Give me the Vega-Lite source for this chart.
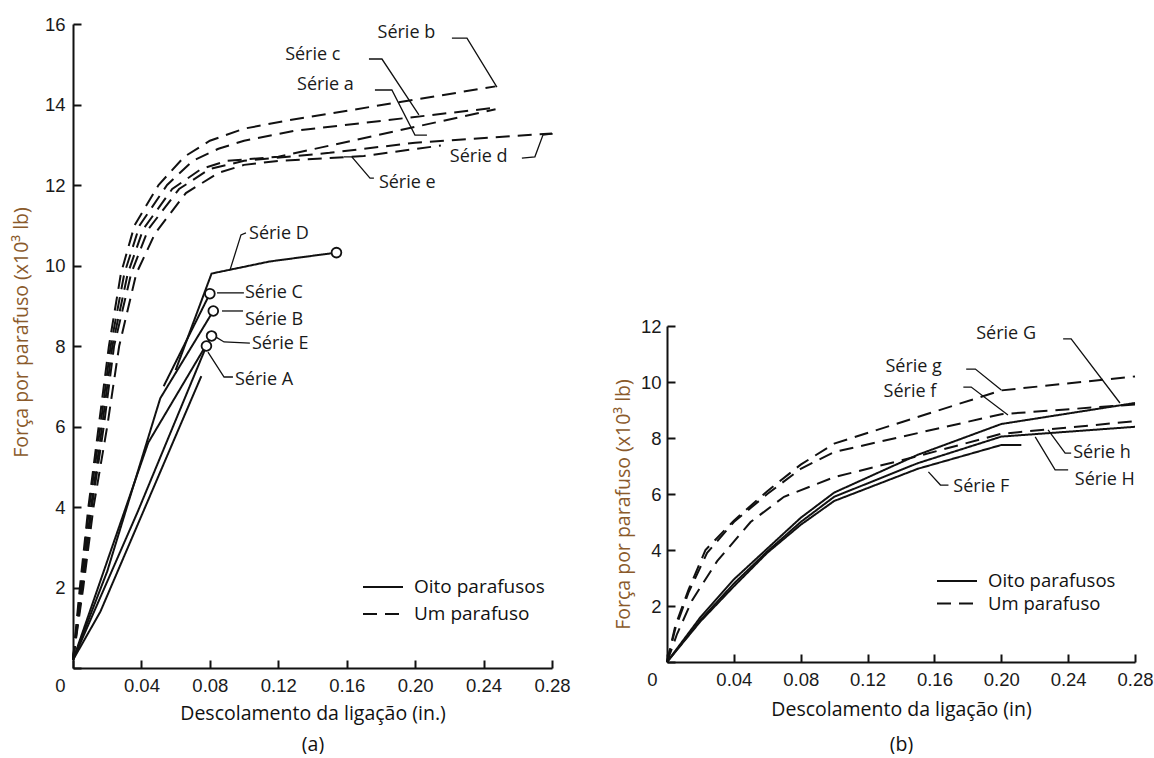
{
  "$schema": "https://vega.github.io/schema/vega-lite/v6.json",
  "background": "white",
  "padding": {"left": 11, "top": 15, "right": 0, "bottom": 0},
  "spacing": 42,
  "config": {
    "view": {"stroke": null},
    "font": "Open Sans",
    "axis": {
      "grid": false,
      "domainColor": "#111111",
      "domainWidth": 2,
      "tickColor": "#111111",
      "tickWidth": 2,
      "tickSize": -8,
      "labelFont": "Liberation Sans",
      "labelFontSize": 18.5,
      "labelColor": "#1a1a1a",
      "labelPadding": 16,
      "labelOverlap": false,
      "labelFlush": false,
      "titleFont": "Open Sans",
      "titleFontWeight": "normal",
      "titleFontSize": 19.5,
      "titleColor": "#111111"
    }
  },
  "resolve": {"scale": {"strokeDash": "independent"}, "legend": {"strokeDash": "independent"}},
  "datasets": {
    "curvas_a": [
      {"serie": "b", "tipo": "Um parafuso", "x": 0, "y": 0.2},
      {"serie": "b", "tipo": "Um parafuso", "x": 0.004, "y": 2},
      {"serie": "b", "tipo": "Um parafuso", "x": 0.009, "y": 4},
      {"serie": "b", "tipo": "Um parafuso", "x": 0.015, "y": 6},
      {"serie": "b", "tipo": "Um parafuso", "x": 0.021, "y": 8},
      {"serie": "b", "tipo": "Um parafuso", "x": 0.028, "y": 9.8},
      {"serie": "b", "tipo": "Um parafuso", "x": 0.036, "y": 11},
      {"serie": "b", "tipo": "Um parafuso", "x": 0.05, "y": 12},
      {"serie": "b", "tipo": "Um parafuso", "x": 0.065, "y": 12.7},
      {"serie": "b", "tipo": "Um parafuso", "x": 0.08, "y": 13.1},
      {"serie": "b", "tipo": "Um parafuso", "x": 0.1, "y": 13.4},
      {"serie": "b", "tipo": "Um parafuso", "x": 0.125, "y": 13.6},
      {"serie": "b", "tipo": "Um parafuso", "x": 0.247, "y": 14.45},
      {"serie": "c", "tipo": "Um parafuso", "x": 0, "y": 0.2},
      {"serie": "c", "tipo": "Um parafuso", "x": 0.0045, "y": 2},
      {"serie": "c", "tipo": "Um parafuso", "x": 0.0095, "y": 4},
      {"serie": "c", "tipo": "Um parafuso", "x": 0.016, "y": 6},
      {"serie": "c", "tipo": "Um parafuso", "x": 0.022, "y": 8},
      {"serie": "c", "tipo": "Um parafuso", "x": 0.03, "y": 9.8},
      {"serie": "c", "tipo": "Um parafuso", "x": 0.039, "y": 11},
      {"serie": "c", "tipo": "Um parafuso", "x": 0.055, "y": 12},
      {"serie": "c", "tipo": "Um parafuso", "x": 0.07, "y": 12.6},
      {"serie": "c", "tipo": "Um parafuso", "x": 0.085, "y": 12.9},
      {"serie": "c", "tipo": "Um parafuso", "x": 0.1, "y": 13.1},
      {"serie": "c", "tipo": "Um parafuso", "x": 0.13, "y": 13.35},
      {"serie": "c", "tipo": "Um parafuso", "x": 0.247, "y": 13.92},
      {"serie": "a", "tipo": "Um parafuso", "x": 0, "y": 0.2},
      {"serie": "a", "tipo": "Um parafuso", "x": 0.005, "y": 2},
      {"serie": "a", "tipo": "Um parafuso", "x": 0.0105, "y": 4},
      {"serie": "a", "tipo": "Um parafuso", "x": 0.017, "y": 6},
      {"serie": "a", "tipo": "Um parafuso", "x": 0.023, "y": 8},
      {"serie": "a", "tipo": "Um parafuso", "x": 0.032, "y": 9.8},
      {"serie": "a", "tipo": "Um parafuso", "x": 0.041, "y": 10.9},
      {"serie": "a", "tipo": "Um parafuso", "x": 0.058, "y": 11.9},
      {"serie": "a", "tipo": "Um parafuso", "x": 0.075, "y": 12.4},
      {"serie": "a", "tipo": "Um parafuso", "x": 0.09, "y": 12.6},
      {"serie": "a", "tipo": "Um parafuso", "x": 0.12, "y": 12.7},
      {"serie": "a", "tipo": "Um parafuso", "x": 0.247, "y": 13.88},
      {"serie": "d", "tipo": "Um parafuso", "x": 0, "y": 0.2},
      {"serie": "d", "tipo": "Um parafuso", "x": 0.0055, "y": 2},
      {"serie": "d", "tipo": "Um parafuso", "x": 0.011, "y": 4},
      {"serie": "d", "tipo": "Um parafuso", "x": 0.018, "y": 6},
      {"serie": "d", "tipo": "Um parafuso", "x": 0.024, "y": 8},
      {"serie": "d", "tipo": "Um parafuso", "x": 0.034, "y": 9.8},
      {"serie": "d", "tipo": "Um parafuso", "x": 0.044, "y": 10.9},
      {"serie": "d", "tipo": "Um parafuso", "x": 0.062, "y": 11.9},
      {"serie": "d", "tipo": "Um parafuso", "x": 0.08, "y": 12.4},
      {"serie": "d", "tipo": "Um parafuso", "x": 0.1, "y": 12.6},
      {"serie": "d", "tipo": "Um parafuso", "x": 0.15, "y": 12.8},
      {"serie": "d", "tipo": "Um parafuso", "x": 0.2, "y": 13.05},
      {"serie": "d", "tipo": "Um parafuso", "x": 0.28, "y": 13.28},
      {"serie": "e", "tipo": "Um parafuso", "x": 0, "y": 0.2},
      {"serie": "e", "tipo": "Um parafuso", "x": 0.006, "y": 2},
      {"serie": "e", "tipo": "Um parafuso", "x": 0.012, "y": 4},
      {"serie": "e", "tipo": "Um parafuso", "x": 0.02, "y": 6},
      {"serie": "e", "tipo": "Um parafuso", "x": 0.027, "y": 8},
      {"serie": "e", "tipo": "Um parafuso", "x": 0.037, "y": 9.8},
      {"serie": "e", "tipo": "Um parafuso", "x": 0.048, "y": 10.8},
      {"serie": "e", "tipo": "Um parafuso", "x": 0.066, "y": 11.8},
      {"serie": "e", "tipo": "Um parafuso", "x": 0.085, "y": 12.3},
      {"serie": "e", "tipo": "Um parafuso", "x": 0.1, "y": 12.5},
      {"serie": "e", "tipo": "Um parafuso", "x": 0.12, "y": 12.6},
      {"serie": "e", "tipo": "Um parafuso", "x": 0.17, "y": 12.72},
      {"serie": "e", "tipo": "Um parafuso", "x": 0.215, "y": 12.98},
      {"serie": "A", "tipo": "Oito parafusos", "x": 0, "y": 0.2},
      {"serie": "A", "tipo": "Oito parafusos", "x": 0.038, "y": 3.9},
      {"serie": "A", "tipo": "Oito parafusos", "x": 0.078, "y": 8.0},
      {"serie": "E", "tipo": "Oito parafusos", "x": 0, "y": 0.2},
      {"serie": "E", "tipo": "Oito parafusos", "x": 0.044, "y": 5.6},
      {"serie": "E", "tipo": "Oito parafusos", "x": 0.081, "y": 8.25},
      {"serie": "B", "tipo": "Oito parafusos", "x": 0, "y": 0.2},
      {"serie": "B", "tipo": "Oito parafusos", "x": 0.02, "y": 2.4},
      {"serie": "B", "tipo": "Oito parafusos", "x": 0.051, "y": 6.7},
      {"serie": "B", "tipo": "Oito parafusos", "x": 0.082, "y": 8.87},
      {"serie": "C", "tipo": "Oito parafusos", "x": 0.053, "y": 7.0},
      {"serie": "C", "tipo": "Oito parafusos", "x": 0.08, "y": 9.3},
      {"serie": "D", "tipo": "Oito parafusos", "x": 0.06, "y": 7.4},
      {"serie": "D", "tipo": "Oito parafusos", "x": 0.081, "y": 9.8},
      {"serie": "D", "tipo": "Oito parafusos", "x": 0.115, "y": 10.1},
      {"serie": "D", "tipo": "Oito parafusos", "x": 0.154, "y": 10.32},
      {"serie": "A2", "tipo": "Oito parafusos", "x": 0, "y": 0.2},
      {"serie": "A2", "tipo": "Oito parafusos", "x": 0.016, "y": 1.4},
      {"serie": "A2", "tipo": "Oito parafusos", "x": 0.075, "y": 7.25}
    ],
    "circulos_a": [
      {"serie": "A", "x": 0.078, "y": 8.0},
      {"serie": "E", "x": 0.081, "y": 8.25},
      {"serie": "B", "x": 0.082, "y": 8.87},
      {"serie": "C", "x": 0.08, "y": 9.3},
      {"serie": "D", "x": 0.154, "y": 10.32}
    ],
    "rotulos_a": [
      {"rotulo": "Série b", "x": 0.178, "y": 15.78},
      {"rotulo": "Série c", "x": 0.124, "y": 15.23},
      {"rotulo": "Série a", "x": 0.131, "y": 14.48},
      {"rotulo": "Série d", "x": 0.2203, "y": 12.7},
      {"rotulo": "Série e", "x": 0.1788, "y": 12.05},
      {"rotulo": "Série D", "x": 0.1029, "y": 10.78},
      {"rotulo": "Série C", "x": 0.1005, "y": 9.32},
      {"rotulo": "Série B", "x": 0.1005, "y": 8.65},
      {"rotulo": "Série E", "x": 0.1046, "y": 8.05},
      {"rotulo": "Série A", "x": 0.0947, "y": 7.16}
    ],
    "lideres_a": [
      {"id": "b", "ord": 1, "x": 0.2215, "y": 15.65},
      {"id": "b", "ord": 2, "x": 0.2303, "y": 15.65},
      {"id": "b", "ord": 3, "x": 0.2478, "y": 14.43},
      {"id": "c", "ord": 1, "x": 0.173, "y": 15.13},
      {"id": "c", "ord": 2, "x": 0.1806, "y": 15.13},
      {"id": "c", "ord": 3, "x": 0.2022, "y": 13.74},
      {"id": "a", "ord": 1, "x": 0.1765, "y": 14.36},
      {"id": "a", "ord": 2, "x": 0.1864, "y": 14.36},
      {"id": "a", "ord": 3, "x": 0.1999, "y": 13.24},
      {"id": "a", "ord": 4, "x": 0.2069, "y": 13.24},
      {"id": "d", "ord": 1, "x": 0.2624, "y": 12.67},
      {"id": "d", "ord": 2, "x": 0.27, "y": 12.7},
      {"id": "d", "ord": 3, "x": 0.2747, "y": 13.24},
      {"id": "d", "ord": 4, "x": 0.2805, "y": 13.27},
      {"id": "e", "ord": 1, "x": 0.1759, "y": 12.17},
      {"id": "e", "ord": 2, "x": 0.1736, "y": 12.17},
      {"id": "e", "ord": 3, "x": 0.163, "y": 12.7},
      {"id": "e", "ord": 4, "x": 0.1584, "y": 12.7},
      {"id": "D", "ord": 1, "x": 0.1011, "y": 10.81},
      {"id": "D", "ord": 2, "x": 0.0982, "y": 10.76},
      {"id": "D", "ord": 3, "x": 0.0918, "y": 9.89},
      {"id": "C", "ord": 1, "x": 0.0842, "y": 9.32},
      {"id": "C", "ord": 2, "x": 0.0999, "y": 9.32},
      {"id": "B", "ord": 1, "x": 0.0871, "y": 8.87},
      {"id": "B", "ord": 2, "x": 0.0994, "y": 8.87},
      {"id": "E", "ord": 1, "x": 0.0836, "y": 8.22},
      {"id": "E", "ord": 2, "x": 0.0883, "y": 8.1},
      {"id": "E", "ord": 3, "x": 0.1034, "y": 8.07},
      {"id": "A", "ord": 1, "x": 0.0789, "y": 7.85},
      {"id": "A", "ord": 2, "x": 0.0883, "y": 7.23},
      {"id": "A", "ord": 3, "x": 0.0935, "y": 7.23}
    ],
    "curvas_b": [
      {"serie": "g", "tipo": "Um parafuso", "x": 0, "y": 0},
      {"serie": "g", "tipo": "Um parafuso", "x": 0.005, "y": 1.3},
      {"serie": "g", "tipo": "Um parafuso", "x": 0.013, "y": 2.6},
      {"serie": "g", "tipo": "Um parafuso", "x": 0.023, "y": 4.0},
      {"serie": "g", "tipo": "Um parafuso", "x": 0.04, "y": 5.05},
      {"serie": "g", "tipo": "Um parafuso", "x": 0.06, "y": 6.1},
      {"serie": "g", "tipo": "Um parafuso", "x": 0.08, "y": 7.05},
      {"serie": "g", "tipo": "Um parafuso", "x": 0.1, "y": 7.8},
      {"serie": "g", "tipo": "Um parafuso", "x": 0.2, "y": 9.7},
      {"serie": "g", "tipo": "Um parafuso", "x": 0.28, "y": 10.2},
      {"serie": "f", "tipo": "Um parafuso", "x": 0, "y": 0},
      {"serie": "f", "tipo": "Um parafuso", "x": 0.005, "y": 1.2},
      {"serie": "f", "tipo": "Um parafuso", "x": 0.013, "y": 2.5},
      {"serie": "f", "tipo": "Um parafuso", "x": 0.024, "y": 3.9},
      {"serie": "f", "tipo": "Um parafuso", "x": 0.04, "y": 5.0},
      {"serie": "f", "tipo": "Um parafuso", "x": 0.06, "y": 6.0},
      {"serie": "f", "tipo": "Um parafuso", "x": 0.08, "y": 6.9},
      {"serie": "f", "tipo": "Um parafuso", "x": 0.1, "y": 7.5},
      {"serie": "f", "tipo": "Um parafuso", "x": 0.2, "y": 8.85},
      {"serie": "f", "tipo": "Um parafuso", "x": 0.28, "y": 9.2},
      {"serie": "h", "tipo": "Um parafuso", "x": 0, "y": 0},
      {"serie": "h", "tipo": "Um parafuso", "x": 0.006, "y": 1.0},
      {"serie": "h", "tipo": "Um parafuso", "x": 0.015, "y": 2.2},
      {"serie": "h", "tipo": "Um parafuso", "x": 0.03, "y": 3.6},
      {"serie": "h", "tipo": "Um parafuso", "x": 0.05, "y": 5.0},
      {"serie": "h", "tipo": "Um parafuso", "x": 0.07, "y": 5.9},
      {"serie": "h", "tipo": "Um parafuso", "x": 0.1, "y": 6.6},
      {"serie": "h", "tipo": "Um parafuso", "x": 0.15, "y": 7.35},
      {"serie": "h", "tipo": "Um parafuso", "x": 0.2, "y": 8.15},
      {"serie": "h", "tipo": "Um parafuso", "x": 0.28, "y": 8.6},
      {"serie": "G", "tipo": "Oito parafusos", "x": 0, "y": 0},
      {"serie": "G", "tipo": "Oito parafusos", "x": 0.02, "y": 1.6},
      {"serie": "G", "tipo": "Oito parafusos", "x": 0.04, "y": 2.95},
      {"serie": "G", "tipo": "Oito parafusos", "x": 0.06, "y": 4.05},
      {"serie": "G", "tipo": "Oito parafusos", "x": 0.08, "y": 5.15},
      {"serie": "G", "tipo": "Oito parafusos", "x": 0.1, "y": 6.05},
      {"serie": "G", "tipo": "Oito parafusos", "x": 0.15, "y": 7.4},
      {"serie": "G", "tipo": "Oito parafusos", "x": 0.2, "y": 8.5},
      {"serie": "G", "tipo": "Oito parafusos", "x": 0.28, "y": 9.25},
      {"serie": "H", "tipo": "Oito parafusos", "x": 0, "y": 0},
      {"serie": "H", "tipo": "Oito parafusos", "x": 0.02, "y": 1.5},
      {"serie": "H", "tipo": "Oito parafusos", "x": 0.04, "y": 2.8},
      {"serie": "H", "tipo": "Oito parafusos", "x": 0.06, "y": 3.95},
      {"serie": "H", "tipo": "Oito parafusos", "x": 0.08, "y": 5.0},
      {"serie": "H", "tipo": "Oito parafusos", "x": 0.1, "y": 5.9},
      {"serie": "H", "tipo": "Oito parafusos", "x": 0.15, "y": 7.1},
      {"serie": "H", "tipo": "Oito parafusos", "x": 0.2, "y": 8.05},
      {"serie": "H", "tipo": "Oito parafusos", "x": 0.28, "y": 8.4},
      {"serie": "F", "tipo": "Oito parafusos", "x": 0, "y": 0},
      {"serie": "F", "tipo": "Oito parafusos", "x": 0.02, "y": 1.45},
      {"serie": "F", "tipo": "Oito parafusos", "x": 0.04, "y": 2.7},
      {"serie": "F", "tipo": "Oito parafusos", "x": 0.06, "y": 3.9},
      {"serie": "F", "tipo": "Oito parafusos", "x": 0.08, "y": 4.9},
      {"serie": "F", "tipo": "Oito parafusos", "x": 0.1, "y": 5.75},
      {"serie": "F", "tipo": "Oito parafusos", "x": 0.15, "y": 6.9},
      {"serie": "F", "tipo": "Oito parafusos", "x": 0.2, "y": 7.75},
      {"serie": "F", "tipo": "Oito parafusos", "x": 0.212, "y": 7.75}
    ],
    "rotulos_b": [
      {"rotulo": "Série G", "x": 0.185, "y": 11.71},
      {"rotulo": "Série g", "x": 0.1307, "y": 10.54},
      {"rotulo": "Série f", "x": 0.1296, "y": 9.64},
      {"rotulo": "Série h", "x": 0.243, "y": 7.46},
      {"rotulo": "Série H", "x": 0.244, "y": 6.5},
      {"rotulo": "Série F", "x": 0.1713, "y": 6.25}
    ],
    "lideres_b": [
      {"id": "G", "ord": 1, "x": 0.237, "y": 11.54},
      {"id": "G", "ord": 2, "x": 0.2418, "y": 11.54},
      {"id": "G", "ord": 3, "x": 0.271, "y": 9.25},
      {"id": "g", "ord": 1, "x": 0.179, "y": 10.46},
      {"id": "g", "ord": 2, "x": 0.1845, "y": 10.46},
      {"id": "g", "ord": 3, "x": 0.2, "y": 9.71},
      {"id": "f", "ord": 1, "x": 0.1773, "y": 9.82},
      {"id": "f", "ord": 2, "x": 0.182, "y": 9.82},
      {"id": "f", "ord": 3, "x": 0.204, "y": 8.82},
      {"id": "h", "ord": 1, "x": 0.228, "y": 8.29},
      {"id": "h", "ord": 2, "x": 0.2382, "y": 7.46},
      {"id": "h", "ord": 3, "x": 0.2418, "y": 7.46},
      {"id": "H", "ord": 1, "x": 0.2203, "y": 8.04},
      {"id": "H", "ord": 2, "x": 0.2322, "y": 6.86},
      {"id": "H", "ord": 3, "x": 0.24, "y": 6.86},
      {"id": "F", "ord": 1, "x": 0.1564, "y": 6.79},
      {"id": "F", "ord": 2, "x": 0.1636, "y": 6.32},
      {"id": "F", "ord": 3, "x": 0.1684, "y": 6.32}
    ]
  },
  "hconcat": [
    {
      "width": 479,
      "height": 644,
      "layer": [
        {
          "data": {"name": "curvas_a"},
          "mark": {"type": "line", "strokeWidth": 2, "color": "#111111", "clip": false},
          "encoding": {
            "x": {
              "field": "x", "type": "quantitative",
              "scale": {"domain": [0, 0.28], "nice": false, "zero": false},
              "axis": {
                "values": [0, 0.04, 0.08, 0.12, 0.16, 0.2, 0.24, 0.28],
                "labelExpr": "datum.value === 0 ? '0' : format(datum.value, '.2f')",
                "labelOffset": {"condition": {"test": "datum.value === 0", "value": -13}, "value": 0},
                "title": ["Descolamento da ligação (in.)", "(a)"],
                "titleLineHeight": 31,
                "titlePadding": 10
              }
            },
            "y": {
              "field": "y", "type": "quantitative",
              "scale": {"domain": [0, 16], "nice": false},
              "axis": {
                "values": [0, 2, 4, 6, 8, 10, 12, 14, 16],
                "labelExpr": "datum.value === 0 ? '' : datum.label",
                "title": "Força por parafuso (x10³ lb)",
                "titleColor": "#8a5a2b",
                "titlePadding": 13,
                "titleY": 308
              }
            },
            "detail": {"field": "serie"},
            "strokeDash": {
              "field": "tipo", "type": "nominal",
              "scale": {"domain": ["Oito parafusos", "Um parafuso"], "range": [[1, 0], [14, 8]]},
              "legend": {
                "orient": "none",
                "legendX": 299,
                "legendY": 552,
                "title": null,
                "symbolType": "M-2,0H2",
                "symbolSize": 400,
                "symbolStrokeWidth": 2,
                "symbolStrokeColor": "#111111",
                "labelFont": "Open Sans",
                "labelFontSize": 19,
                "labelColor": "#111111",
                "labelOffset": 20,
                "rowPadding": 6
              }
            }
          }
        },
        {
          "data": {"name": "lideres_a"},
          "mark": {"type": "line", "strokeWidth": 1.3, "color": "#111111", "clip": false},
          "encoding": {
            "x": {"field": "x", "type": "quantitative"},
            "y": {"field": "y", "type": "quantitative"},
            "detail": {"field": "id"},
            "order": {"field": "ord", "type": "quantitative"}
          }
        },
        {
          "data": {"name": "circulos_a"},
          "mark": {"type": "point", "shape": "circle", "filled": true, "fill": "white", "stroke": "#111111", "strokeWidth": 1.8, "size": 95, "opacity": 1},
          "encoding": {
            "x": {"field": "x", "type": "quantitative"},
            "y": {"field": "y", "type": "quantitative"}
          }
        },
        {
          "data": {"name": "rotulos_a"},
          "mark": {"type": "text", "align": "left", "baseline": "middle", "font": "Open Sans", "fontSize": 18, "color": "#1a1a1a"},
          "encoding": {
            "x": {"field": "x", "type": "quantitative"},
            "y": {"field": "y", "type": "quantitative"},
            "text": {"field": "rotulo"}
          }
        }
      ]
    },
    {
      "width": 468,
      "height": 638,
      "layer": [
        {
          "data": {"name": "curvas_b"},
          "mark": {"type": "line", "strokeWidth": 2, "color": "#111111", "clip": false},
          "encoding": {
            "x": {
              "field": "x", "type": "quantitative",
              "scale": {"domain": [0, 0.28], "nice": false, "zero": false},
              "axis": {
                "values": [0, 0.04, 0.08, 0.12, 0.16, 0.2, 0.24, 0.28],
                "labelExpr": "datum.value === 0 ? '0' : format(datum.value, '.2f')",
                "labelOffset": {"condition": {"test": "datum.value === 0", "value": -15}, "value": 0},
                "title": ["Descolamento da ligação (in)", "(b)"],
                "titleLineHeight": 35,
                "titlePadding": 12
              }
            },
            "y": {
              "field": "y", "type": "quantitative",
              "scale": {"domain": [0, 12], "nice": false, "range": [638, 302]},
              "axis": {
                "values": [0, 2, 4, 6, 8, 10, 12],
                "labelExpr": "datum.value === 0 ? '' : datum.label",
                "labelPadding": 14,
                "title": "Força por parafuso (x10³ lb)",
                "titleColor": "#8a5a2b",
                "titlePadding": 7,
                "titleY": 480
              }
            },
            "detail": {"field": "serie"},
            "strokeDash": {
              "field": "tipo", "type": "nominal",
              "scale": {"domain": ["Oito parafusos", "Um parafuso"], "range": [[1, 0], [14, 8]]},
              "legend": {
                "orient": "none",
                "legendX": 279,
                "legendY": 546,
                "title": null,
                "symbolType": "M-2,0H2",
                "symbolSize": 400,
                "symbolStrokeWidth": 2,
                "symbolStrokeColor": "#111111",
                "labelFont": "Open Sans",
                "labelFontSize": 18.5,
                "labelColor": "#111111",
                "labelOffset": 20,
                "rowPadding": 1.5
              }
            }
          }
        },
        {
          "data": {"name": "lideres_b"},
          "mark": {"type": "line", "strokeWidth": 1.3, "color": "#111111", "clip": false},
          "encoding": {
            "x": {"field": "x", "type": "quantitative"},
            "y": {"field": "y", "type": "quantitative"},
            "detail": {"field": "id"},
            "order": {"field": "ord", "type": "quantitative"}
          }
        },
        {
          "data": {"name": "rotulos_b"},
          "mark": {"type": "text", "align": "left", "baseline": "middle", "font": "Open Sans", "fontSize": 18, "color": "#1a1a1a"},
          "encoding": {
            "x": {"field": "x", "type": "quantitative"},
            "y": {"field": "y", "type": "quantitative"},
            "text": {"field": "rotulo"}
          }
        }
      ]
    }
  ]
}
